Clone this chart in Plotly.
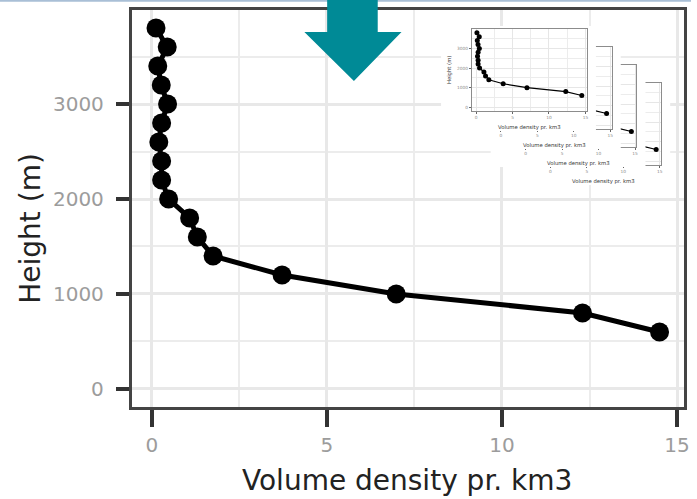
import plotly.graph_objects as go

W, H = 697, 499

# ---- data ----
volume_density = [0.12, 0.44, 0.17, 0.27, 0.45, 0.28, 0.2, 0.28, 0.28, 0.48,
                  1.08, 1.3, 1.75, 3.72, 6.98, 12.3, 14.5]
height_m = [3800, 3600, 3400, 3200, 3000, 2800, 2600, 2400, 2200, 2000,
            1800, 1600, 1400, 1200, 1000, 800, 600]
x_ticks = [0, 5, 10, 15]
y_ticks = [0, 1000, 2000, 3000]
x_title = "Volume density pr. km3"
y_title = "Height (m)"

X_RANGE = [-0.57, 15.2]
Y_RANGE = [-190, 3990]
FONT = "DejaVu Sans"


def dx(a, b):
    return [a / W, b / W]


def dy(top, bottom):
    return [1 - bottom / H, 1 - top / H]


fig = go.Figure()
layout = dict(
    width=W, height=H, autosize=False,
    margin=dict(l=0, r=0, t=0, b=0),
    paper_bgcolor="white", plot_bgcolor="white",
    showlegend=False, font=dict(family=FONT),
    shapes=[], annotations=[],
)

# ---- main chart ----
fig.add_trace(go.Scatter(
    x=volume_density, y=height_m, mode="lines+markers",
    line=dict(color="black", width=5),
    marker=dict(color="black", size=19),
    xaxis="x", yaxis="y", cliponaxis=False, hoverinfo="skip"))

grid = dict(showgrid=True, gridcolor="#e8e8e8", gridwidth=2.5,
            zeroline=False, showline=True, mirror=True,
            linecolor="#444444", linewidth=3,
            ticks="outside", tickcolor="#333333", tickwidth=3.5,
            tickfont=dict(family=FONT, size=20, color="#9c9c9c"))
layout["xaxis"] = dict(grid, domain=dx(133, 690), range=X_RANGE, anchor="y",
                       tickvals=x_ticks, ticklen=17, ticklabelstandoff=1,
                       minor=dict(dtick=2.5, tick0=0, showgrid=True,
                                  gridcolor="#ececec", gridwidth=2, ticks=""))
layout["yaxis"] = dict(grid, domain=dy(10, 407), range=Y_RANGE, anchor="x",
                       tickvals=y_ticks, ticklen=13, ticklabelstandoff=8,
                       minor=dict(dtick=500, tick0=0, showgrid=True,
                                  gridcolor="#ececec", gridwidth=2, ticks=""))
layout["annotations"].append(dict(
    text=x_title, x=411 / W, y=1 - 480 / H, xref="paper", yref="paper",
    showarrow=False, xanchor="center", yanchor="middle",
    font=dict(family=FONT, size=28, color="#222222")))
layout["annotations"].append(dict(
    text=y_title, x=30 / W, y=1 - 228 / H, xref="paper", yref="paper",
    showarrow=False, xanchor="center", yanchor="middle", textangle=-90,
    font=dict(family=FONT, size=28, color="#222222")))

# ---- inset: four stacked copies, copy 0 on top ----
n = 2
for k in [3, 2, 1, 0]:
    ox, oy = 25 * k, 18 * k
    # white cover (the copy's picture background)
    cid = n
    fig.add_trace(go.Scatter(x=[], y=[], xaxis=f"x{cid}", yaxis=f"y{cid}",
                             hoverinfo="skip"))
    layout[f"xaxis{cid}"] = dict(domain=dx(445 + ox, 601 + ox), range=[0, 1],
                                 visible=False, anchor=f"y{cid}")
    layout[f"yaxis{cid}"] = dict(domain=dy(26 + oy, 131 + oy), range=[0, 1],
                                 visible=False, anchor=f"x{cid}")
    layout["shapes"].append(dict(type="rect", xref=f"x{cid}", yref=f"y{cid}",
                                 x0=0, x1=1, y0=0, y1=1, layer="below",
                                 fillcolor="white", line=dict(width=0)))
    n += 1
    pid = n
    fig.add_trace(go.Scatter(
        x=volume_density, y=height_m, mode="lines+markers",
        line=dict(color="black", width=1.2),
        marker=dict(color="black", size=5),
        xaxis=f"x{pid}", yaxis=f"y{pid}", hoverinfo="skip"))
    small = dict(showgrid=True, gridcolor="#e6e6e6", gridwidth=0.7,
                 zeroline=False, showline=True, mirror=True,
                 linecolor="#8c8c8c", linewidth=1,
                 ticks="outside", tickcolor="#666666", tickwidth=0.7, ticklen=2,
                 ticklabelstandoff=0,
                 tickfont=dict(family=FONT, size=4.3, color="#8a8a8a"))
    layout[f"xaxis{pid}"] = dict(small, domain=dx(476 + ox, 592 + ox),
                                 range=X_RANGE, anchor=f"y{pid}",
                                 tickvals=x_ticks,
                                 minor=dict(dtick=2.5, tick0=0, showgrid=True,
                                            gridcolor="#ececec", gridwidth=0.6))
    layout[f"yaxis{pid}"] = dict(small, domain=dy(29 + oy, 111 + oy),
                                 range=Y_RANGE, anchor=f"x{pid}",
                                 tickvals=y_ticks,
                                 # hidden behind the copy in front anyway
                                 showticklabels=(k == 0),
                                 minor=dict(dtick=500, tick0=0, showgrid=True,
                                            gridcolor="#ececec", gridwidth=0.6))
    layout["annotations"].append(dict(
        text=x_title, x=(534 + ox) / W, y=1 - (127.5 + oy) / H,
        xref="paper", yref="paper", showarrow=False,
        xanchor="center", yanchor="middle",
        font=dict(family=FONT, size=5.3, color="#333333")))
    if k == 0:
        layout["annotations"].append(dict(
            text=y_title, x=453 / W, y=1 - 70 / H,
            xref="paper", yref="paper", showarrow=False, textangle=-90,
            xanchor="center", yanchor="middle",
            font=dict(family=FONT, size=5.3, color="#333333")))
    n += 1

# ---- decorations: top edge line and teal arrow ----
layout["shapes"].append(dict(type="line", xref="paper", yref="paper",
                             x0=0, x1=1, y0=1 - 0.8 / H, y1=1 - 0.8 / H,
                             layer="above", line=dict(color="#a9bfd6", width=2)))


def P(px, py):
    return f"{px / W:.5f},{1 - py / H:.5f}"


arrow = ("M " + P(330, 0) + " L " + P(381, 0) + " L " + P(381, 32) + " L " +
         P(405, 32) + " L " + P(357, 81) + " L " + P(307, 32) + " L " +
         P(330, 32) + " Z")
layout["shapes"].append(dict(type="path", xref="paper", yref="paper",
                             path=arrow, layer="above",
                             fillcolor="#008a96", line=dict(width=0)))

fig.update_layout(**layout)
fig.write_html("out.html", config={"displayModeBar": False})
